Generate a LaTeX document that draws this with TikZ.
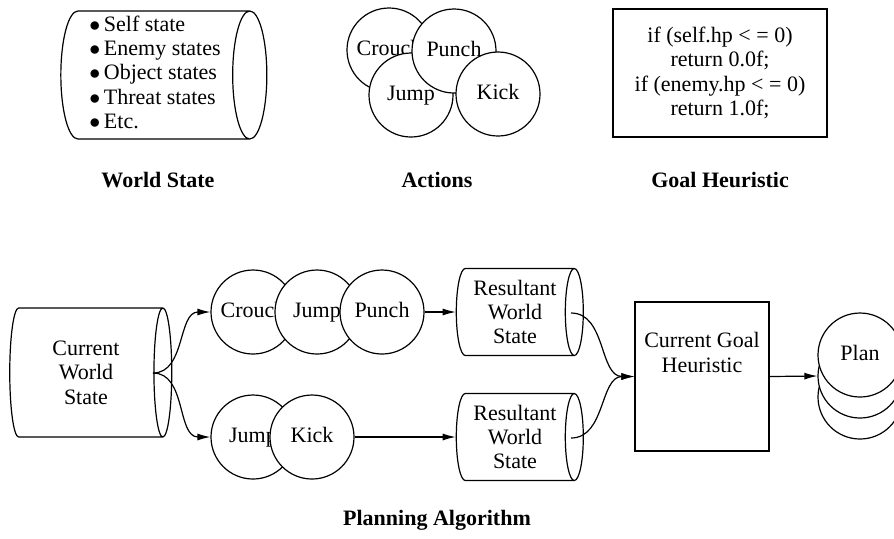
\documentclass[tikz,border=0pt]{standalone}
\usepackage{fontspec}
\setmainfont{Liberation Serif}
\usetikzlibrary{shapes, arrows.meta, positioning}

\tikzset{
  store/.style={shape=cylinder, draw, fill=white, aspect=0.28, inner sep=0pt, align=center},
  act/.style={circle, draw, fill=white, minimum size=42pt, inner sep=0pt,
    text height=7.5pt, text depth=2.5pt},
  box/.style={rectangle, draw, fill=white, align=center, inner sep=0pt},
  caption/.style={font=\fontsize{11}{12.2}\selectfont\bfseries},
  flow/.style={-{Latex[length=6.5pt,width=3.5pt]}}
}

\begin{document}
\begin{tikzpicture}[x=0.5pt, y=-0.5pt, font=\fontsize{11}{12.2}\selectfont, line width=0.6pt]
  \useasboundingbox (0,0) rectangle (894,538);
  \clip (0,0) rectangle (894,538);

  % World state
  \node[store, minimum height=103pt, minimum width=64pt] (world) at (155,75)
    {\begin{tabular}{@{}l@{}}$\bullet$\,Self state\\ $\bullet$\,Enemy states\\
     $\bullet$\,Object states\\ $\bullet$\,Threat states\\ $\bullet$\,Etc.\end{tabular}};
  \node[caption] (worldcap) at (158,180) {World State};

  % Actions
  \node[act] (crouch) at (389,50) {Crouch};
  \node[act] (jump) at (411,95) {Jump};
  \node[act] (punch) at (454,51) {Punch};
  \node[act] (kick) at (498,94) {Kick};
  \node[caption] (actcap) at (437,180) {Actions};

  % Goal heuristic
  \node[box, minimum width=107pt, minimum height=64pt] (heur) at (720,73)
    {if (self.hp < = 0)\\ return 0.0f;\\ if (enemy.hp < = 0)\\ return 1.0f;};
  \node[caption] (heurcap) at (720,180) {Goal Heuristic};

  % Planning
  \node[store, minimum height=81pt, minimum width=64.5pt] (cws) at (86,372.5)
    {Current\\ World\\ State};
  \coordinate (cwsout) at (153,373);

  \node[act] (seq1a) at (253,312) {Crouch};
  \node[act] (seq1b) at (317,312) {Jump};
  \node[act] (seq1c) at (382,312) {Punch};
  \node[act] (seq2a) at (253,437) {Jump};
  \node[act] (seq2b) at (312,437) {Kick};

  \node[store, minimum height=63.5pt, minimum width=43.5pt] (res1) at (515,312)
    {Resultant\\ World\\ State};
  \node[store, minimum height=63.5pt, minimum width=43.5pt] (res2) at (515,437)
    {Resultant\\ World\\ State};
  \coordinate (res1out) at (571,313);
  \coordinate (res2out) at (571,438);

  \node[box, minimum width=67pt, minimum height=74.5pt] (goal) at (702,376.5)
    {Current Goal\\ Heuristic\\[12pt]};

  \node[act] (plan3) at (860,397) {};
  \node[act] (plan2) at (860,376) {};
  \node[act] (plan1) at (860,355) {Plan};

  \draw[flow] (cwsout) to[out=0,in=180] (seq1a.west);
  \draw[flow] (cwsout) to[out=0,in=180] (seq2a.west);
  \draw[flow] (seq1c.east) -- (res1.west);
  \draw[flow] (seq2b.east) -- (res2.west);
  \draw[flow] (res1out) to[out=0,in=180] (goal.west);
  \draw[flow] (res2out) to[out=0,in=180] (goal.west);
  \draw[flow] (goal.east) -- (plan2.west);

  \node[caption] (plancap) at (437,520) {Planning Algorithm};
\end{tikzpicture}
\end{document}
